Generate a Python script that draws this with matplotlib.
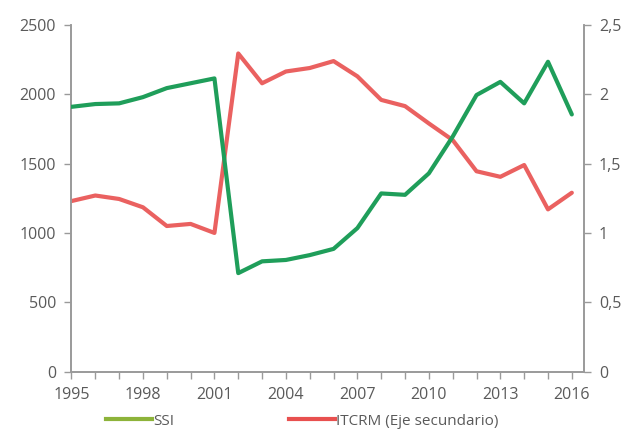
import matplotlib.pyplot as plt
from matplotlib.lines import Line2D

years = list(range(1995, 2017))
ssi = [1910, 1930, 1935, 1980, 2045, 2080, 2115, 710, 795, 805, 840, 885,
       1035, 1285, 1275, 1430, 1695, 1995, 2090, 1935, 2235, 1855]
itcrm = [1.23, 1.27, 1.245, 1.185, 1.05, 1.065, 1.0, 2.295, 2.08, 2.165, 2.19, 2.24,
         2.13, 1.96, 1.915, 1.79, 1.67, 1.445, 1.405, 1.49, 1.17, 1.29]

xticks = [1995, 1998, 2001, 2004, 2007, 2010, 2013, 2016]
left_ticks = [0, 500, 1000, 1500, 2000, 2500]
right_ticks = [0, 0.5, 1, 1.5, 2, 2.5]
right_labels = ['0', '0,5', '1', '1,5', '2', '2,5']

green = '#1f9e5a'
red = '#e8504f'
grey = '#9a9a9a'
txt = '#5a5a5a'

plt.rcParams['font.family'] = ['Open Sans', 'DejaVu Sans']

fig = plt.figure(figsize=(6.27, 4.32), dpi=100)
ax = fig.add_axes([0.114, 0.14, 0.817, 0.802])
ax2 = ax.twinx()

ax.plot(years, ssi, color=green, lw=3, solid_capstyle='round', zorder=3)
ax2.plot(years, itcrm, color=red, lw=3, solid_capstyle='round', alpha=0.9)

ax.set_xlim(1995, 2016.5)
ax.set_ylim(0, 2500)
ax2.set_ylim(0, 2.5)

ax.set_xticks(years, minor=True)
ax.set_xticks(xticks)
ax.set_yticks(left_ticks)
ax2.set_yticks(right_ticks)
ax2.set_yticklabels(right_labels)

for a in (ax, ax2):
    a.spines['top'].set_visible(False)
    for s in a.spines.values():
        s.set_color(grey)
        s.set_linewidth(1.2)
    a.tick_params(colors=grey, labelcolor=txt, labelsize=11.5, width=1, length=5, pad=6)
ax.tick_params(axis='x', which='minor', colors=grey, length=5, width=1)
ax.tick_params(axis='x', pad=6)
ax.set_zorder(ax2.get_zorder() + 1)
ax.patch.set_visible(False)

handles = [Line2D([], [], color='#8db33a', lw=3),
           Line2D([], [], color=red, lw=3)]
fig.legend(handles, ['SSI', 'ITCRM (Eje secundario)'], loc='center',
           bbox_to_anchor=(0.482, 0.025), ncol=2, frameon=False, fontsize=11,
           labelcolor=txt, handlelength=3, handletextpad=0.1, columnspacing=7.5)

fig.savefig('out.png', dpi=100)
